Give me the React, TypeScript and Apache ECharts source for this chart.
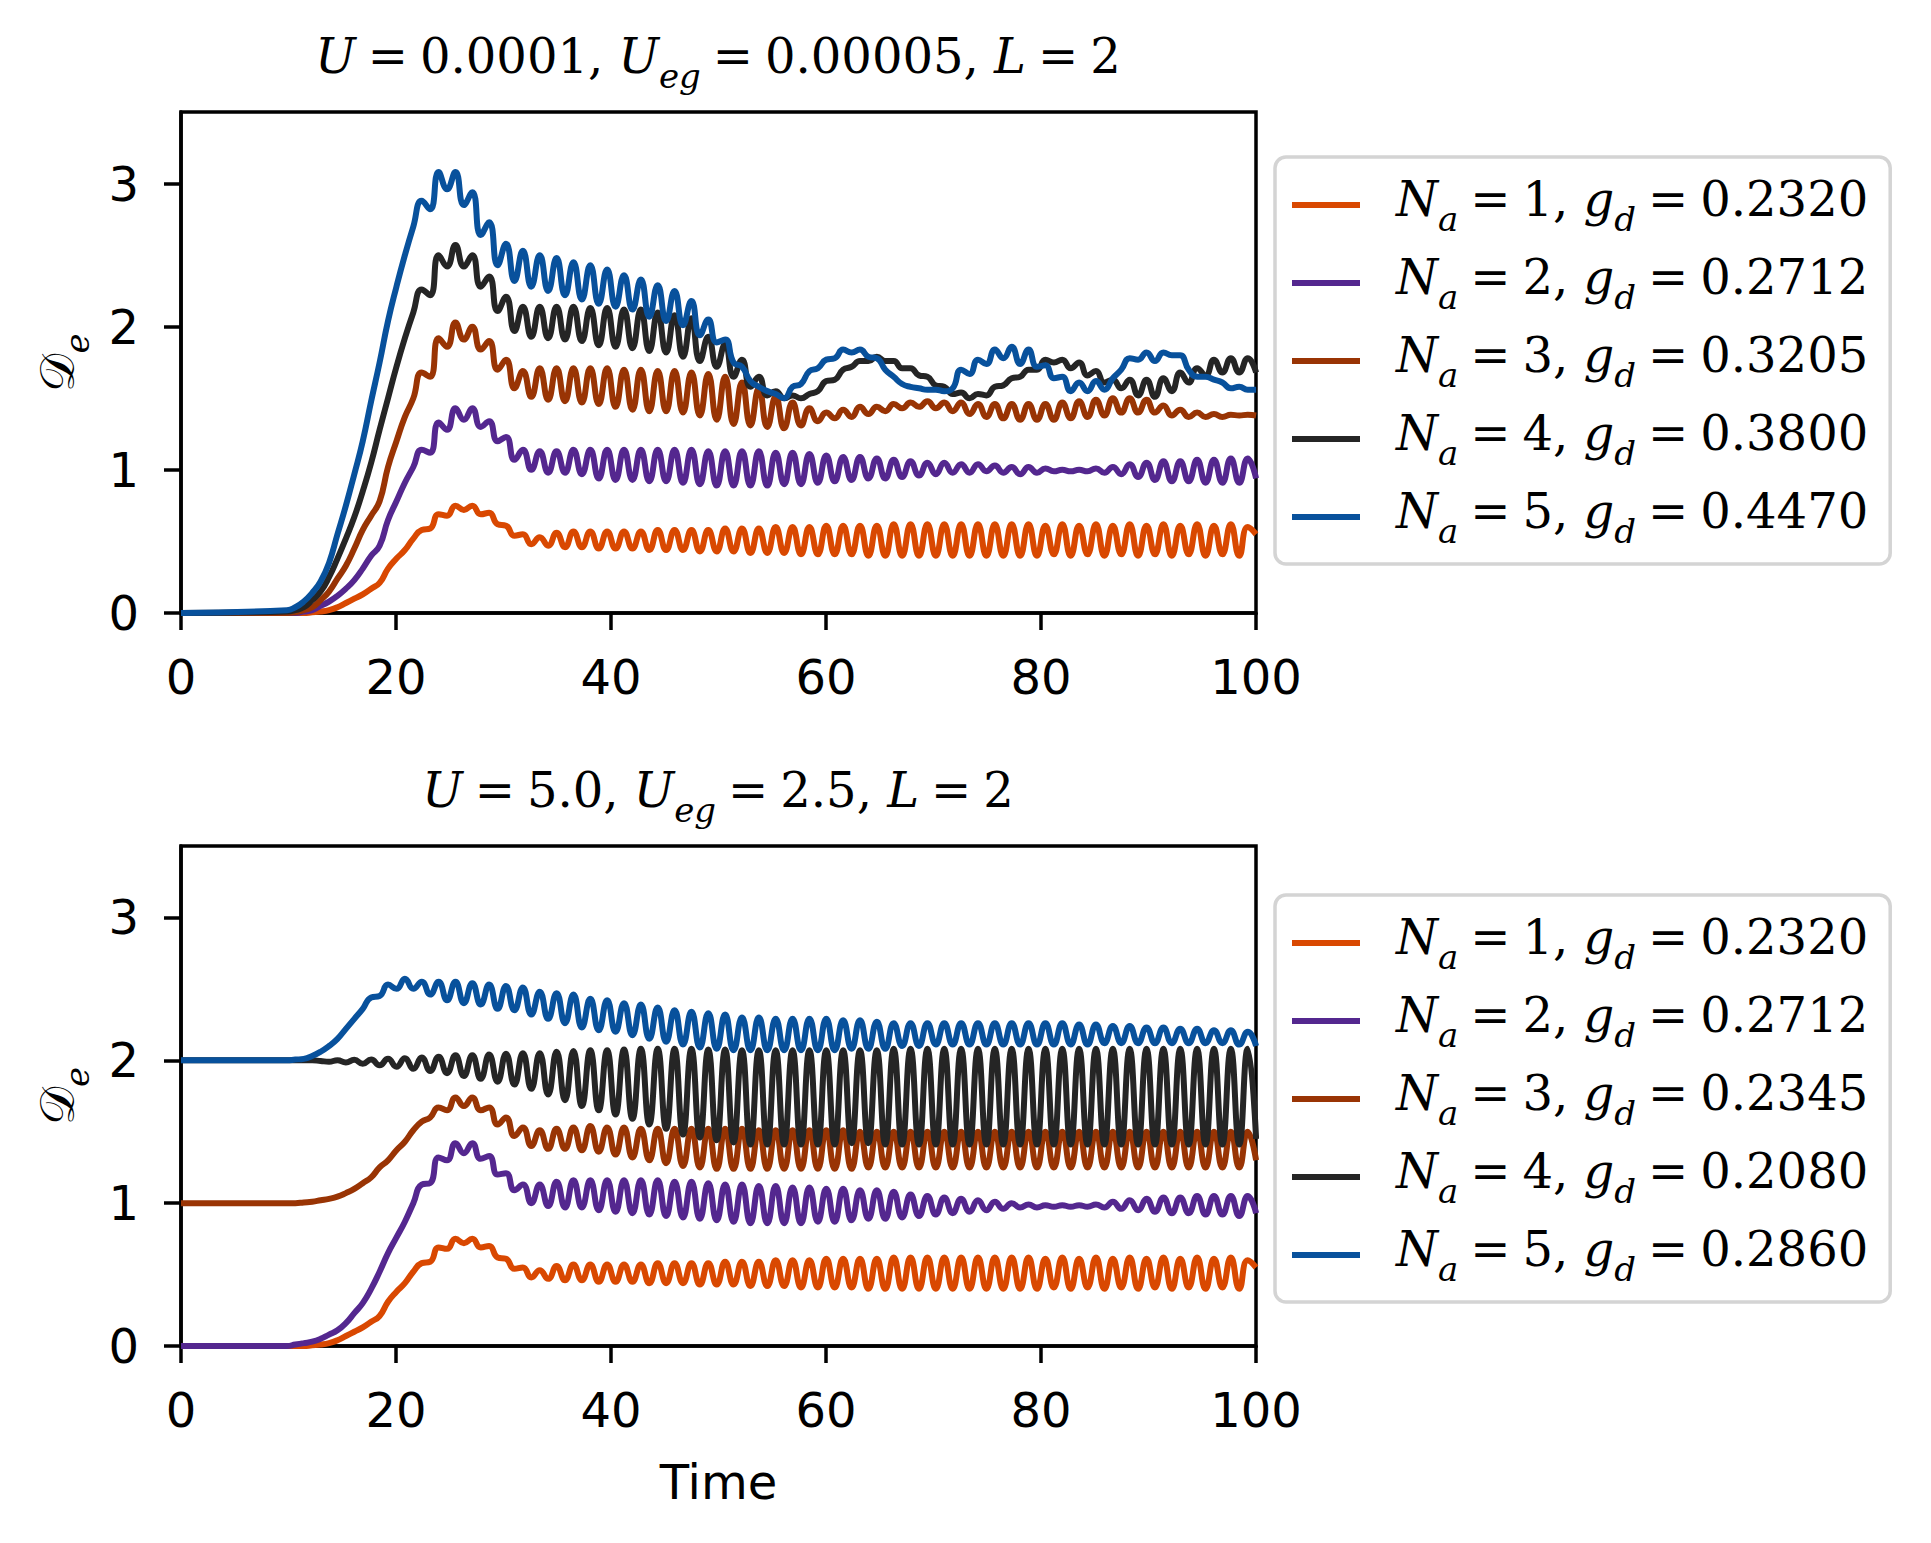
import React, { useEffect, useRef } from "react";
import * as echarts from "echarts";

const WIDTH = 1931;
const HEIGHT = 1543;

// Time grid: samples at the successive extrema of the oscillation (half period apart)
const T0 = 9.85;
const HALF_PERIOD = 0.784;

const X_TICKS = [0, 20, 40, 60, 80, 100];
const Y_TICKS = [0, 1, 2, 3];

const TITLES = ["U = 0.0001, U_eg = 0.00005, L = 2", "U = 5.0, U_eg = 2.5, L = 2"];
const TOP_NAMES = [
  "N_a = 1, g_d = 0.2320",
  "N_a = 2, g_d = 0.2712",
  "N_a = 3, g_d = 0.3205",
  "N_a = 4, g_d = 0.3800",
  "N_a = 5, g_d = 0.4470",
];
const BOT_NAMES = [
  "N_a = 1, g_d = 0.2320",
  "N_a = 2, g_d = 0.2712",
  "N_a = 3, g_d = 0.2345",
  "N_a = 4, g_d = 0.2080",
  "N_a = 5, g_d = 0.2860",
];
const COLORS = ["#d94801", "#54278f", "#993404", "#252525", "#08519c"];

// values at t = 0
const TOP_START = [0, 0, 0, 0, 0];
const BOT_START = [0, 0, 1, 2, 2];

// Na = 1 (identical in both panels)
const na1 = [
  0, 0, 0, 0.005, 0.01, 0.02, 0.04, 0.07, 0.10, 0.13,
  0.17, 0.21, 0.31, 0.38, 0.44, 0.52, 0.58, 0.59, 0.69, 0.68,
  0.75, 0.72, 0.75, 0.69, 0.70, 0.62, 0.61, 0.54, 0.55, 0.48,
  0.53, 0.47, 0.56, 0.46, 0.57, 0.46, 0.57, 0.45, 0.57, 0.45,
  0.57, 0.45, 0.57, 0.44, 0.58, 0.44, 0.58, 0.44, 0.58, 0.43,
  0.58, 0.43, 0.59, 0.43, 0.59, 0.42, 0.59, 0.42, 0.60, 0.42,
  0.60, 0.41, 0.60, 0.41, 0.61, 0.41, 0.61, 0.41, 0.61, 0.40,
  0.61, 0.40, 0.62, 0.40, 0.62, 0.40, 0.62, 0.40, 0.62, 0.40,
  0.62, 0.40, 0.62, 0.40, 0.62, 0.40, 0.62, 0.40, 0.62, 0.40,
  0.61, 0.41, 0.62, 0.40, 0.61, 0.41, 0.62, 0.40, 0.61, 0.41,
  0.62, 0.40, 0.61, 0.41, 0.62, 0.40, 0.61, 0.41, 0.62, 0.40,
  0.61, 0.41, 0.62, 0.40, 0.60, 0.55,
];

const topNa2 = [
  0, 0, 0.01, 0.02, 0.05, 0.08, 0.12, 0.17, 0.23, 0.31,
  0.40, 0.47, 0.65, 0.78, 0.91, 1.02, 1.14, 1.12, 1.33, 1.28,
  1.43, 1.35, 1.43, 1.30, 1.34, 1.20, 1.23, 1.07, 1.14, 1.00,
  1.13, 0.98, 1.13, 0.98, 1.14, 0.97, 1.14, 0.94, 1.14, 0.93,
  1.14, 0.93, 1.14, 0.92, 1.14, 0.92, 1.14, 0.91, 1.14, 0.90,
  1.13, 0.89, 1.13, 0.89, 1.13, 0.89, 1.13, 0.89, 1.12, 0.90,
  1.12, 0.90, 1.11, 0.91, 1.10, 0.92, 1.09, 0.93, 1.09, 0.94,
  1.08, 0.94, 1.07, 0.95, 1.06, 0.96, 1.05, 0.97, 1.05, 0.98,
  1.04, 0.98, 1.04, 0.99, 1.03, 0.98, 1.02, 0.97, 1.02, 0.98,
  1.01, 0.99, 1.00, 0.99, 1.00, 0.99, 1.01, 0.98, 1.02, 0.97,
  1.04, 0.95, 1.05, 0.93, 1.06, 0.92, 1.06, 0.92, 1.07, 0.91,
  1.07, 0.91, 1.08, 0.91, 1.08, 0.94,
];

const topNa3 = [
  0, 0.005, 0.02, 0.04, 0.09, 0.15, 0.24, 0.33, 0.45, 0.58,
  0.68, 0.78, 1.02, 1.20, 1.37, 1.50, 1.68, 1.65, 1.92, 1.86,
  2.03, 1.91, 2.00, 1.84, 1.90, 1.70, 1.77, 1.57, 1.69, 1.51,
  1.71, 1.49, 1.71, 1.48, 1.71, 1.47, 1.71, 1.46, 1.71, 1.44,
  1.70, 1.42, 1.70, 1.41, 1.69, 1.41, 1.69, 1.40, 1.68, 1.38,
  1.67, 1.35, 1.65, 1.32, 1.61, 1.31, 1.57, 1.30, 1.51, 1.29,
  1.47, 1.31, 1.43, 1.34, 1.40, 1.36, 1.42, 1.37, 1.44, 1.39,
  1.44, 1.41, 1.46, 1.43, 1.47, 1.44, 1.48, 1.43, 1.47, 1.41,
  1.47, 1.39, 1.46, 1.37, 1.46, 1.36, 1.46, 1.35, 1.46, 1.35,
  1.46, 1.35, 1.47, 1.36, 1.48, 1.37, 1.49, 1.38, 1.50, 1.40,
  1.50, 1.40, 1.49, 1.40, 1.45, 1.38, 1.42, 1.37, 1.40, 1.37,
  1.39, 1.37, 1.385, 1.38, 1.385, 1.38,
];

const topNa4 = [
  0.01, 0.02, 0.04, 0.09, 0.15, 0.25, 0.38, 0.52, 0.67, 0.85,
  1.05, 1.28, 1.50, 1.72, 1.92, 2.10, 2.26, 2.22, 2.50, 2.42,
  2.57, 2.42, 2.50, 2.28, 2.35, 2.11, 2.21, 1.97, 2.14, 1.93,
  2.14, 1.92, 2.14, 1.91, 2.14, 1.90, 2.13, 1.87, 2.13, 1.86,
  2.12, 1.85, 2.12, 1.83, 2.10, 1.82, 2.08, 1.79, 2.06, 1.76,
  1.93, 1.72, 1.88, 1.65, 1.77, 1.58, 1.65, 1.52, 1.55, 1.50,
  1.52, 1.50, 1.53, 1.55, 1.62, 1.63, 1.70, 1.72, 1.76, 1.76,
  1.79, 1.76, 1.76, 1.71, 1.71, 1.66, 1.65, 1.59, 1.58, 1.53,
  1.54, 1.50, 1.53, 1.52, 1.58, 1.59, 1.64, 1.65, 1.70, 1.70,
  1.77, 1.75, 1.77, 1.71, 1.75, 1.66, 1.69, 1.61, 1.63, 1.57,
  1.63, 1.52, 1.63, 1.51, 1.64, 1.55, 1.68, 1.61, 1.71, 1.66,
  1.77, 1.68, 1.78, 1.68, 1.78, 1.68,
];

const topNa5 = [
  0.02, 0.04, 0.08, 0.14, 0.22, 0.35, 0.55, 0.75, 0.97, 1.20,
  1.48, 1.75, 2.04, 2.28, 2.50, 2.70, 2.88, 2.82, 3.08, 2.96,
  3.08, 2.85, 2.94, 2.64, 2.73, 2.43, 2.58, 2.32, 2.53, 2.28,
  2.50, 2.25, 2.48, 2.22, 2.45, 2.19, 2.43, 2.16, 2.40, 2.14,
  2.36, 2.12, 2.33, 2.07, 2.29, 2.04, 2.25, 2.01, 2.18, 1.94,
  2.05, 1.89, 1.91, 1.75, 1.72, 1.62, 1.58, 1.55, 1.53, 1.50,
  1.58, 1.60, 1.69, 1.71, 1.77, 1.78, 1.84, 1.82, 1.84, 1.79,
  1.78, 1.70, 1.65, 1.60, 1.58, 1.57, 1.56, 1.56, 1.55, 1.57,
  1.70, 1.67, 1.77, 1.74, 1.84, 1.78, 1.86, 1.74, 1.84, 1.72,
  1.73, 1.64, 1.65, 1.55, 1.61, 1.55, 1.62, 1.56, 1.64, 1.70,
  1.78, 1.77, 1.82, 1.76, 1.82, 1.80, 1.80, 1.70, 1.65, 1.65,
  1.63, 1.61, 1.57, 1.58, 1.56, 1.56,
];

const botNa2 = [
  0, 0.01, 0.02, 0.03, 0.05, 0.08, 0.11, 0.16, 0.23, 0.30,
  0.40, 0.52, 0.65, 0.76, 0.87, 1.00, 1.13, 1.14, 1.32, 1.30,
  1.42, 1.35, 1.42, 1.31, 1.33, 1.20, 1.21, 1.09, 1.13, 1.00,
  1.13, 0.98, 1.15, 0.97, 1.16, 0.97, 1.16, 0.95, 1.16, 0.94,
  1.16, 0.93, 1.16, 0.92, 1.16, 0.91, 1.15, 0.90, 1.15, 0.89,
  1.14, 0.88, 1.13, 0.87, 1.13, 0.86, 1.12, 0.86, 1.12, 0.86,
  1.11, 0.86, 1.11, 0.87, 1.10, 0.87, 1.10, 0.88, 1.09, 0.89,
  1.09, 0.89, 1.08, 0.90, 1.06, 0.91, 1.05, 0.92, 1.04, 0.93,
  1.03, 0.94, 1.02, 0.95, 1.01, 0.96, 1.00, 0.97, 0.99, 0.97,
  0.985, 0.975, 0.985, 0.975, 0.985, 0.975, 0.99, 0.97, 1.01, 0.96,
  1.02, 0.95, 1.03, 0.94, 1.04, 0.93, 1.04, 0.93, 1.05, 0.92,
  1.05, 0.92, 1.05, 0.91, 1.05, 0.93,
];

const botNa3 = [
  1.0, 1.0, 1.005, 1.01, 1.02, 1.03, 1.045, 1.07, 1.10, 1.14,
  1.18, 1.25, 1.30, 1.37, 1.43, 1.51, 1.57, 1.60, 1.67, 1.65,
  1.74, 1.68, 1.74, 1.65, 1.67, 1.55, 1.60, 1.47, 1.53, 1.40,
  1.51, 1.38, 1.52, 1.38, 1.53, 1.37, 1.54, 1.36, 1.53, 1.34,
  1.53, 1.32, 1.52, 1.30, 1.52, 1.28, 1.52, 1.26, 1.52, 1.25,
  1.52, 1.24, 1.52, 1.24, 1.52, 1.24, 1.51, 1.24, 1.51, 1.24,
  1.51, 1.24, 1.51, 1.24, 1.51, 1.24, 1.51, 1.24, 1.50, 1.25,
  1.50, 1.25, 1.50, 1.25, 1.50, 1.25, 1.50, 1.25, 1.50, 1.25,
  1.50, 1.25, 1.50, 1.25, 1.50, 1.25, 1.50, 1.25, 1.50, 1.25,
  1.50, 1.25, 1.50, 1.25, 1.50, 1.25, 1.50, 1.25, 1.50, 1.25,
  1.50, 1.25, 1.50, 1.25, 1.50, 1.25, 1.50, 1.25, 1.50, 1.25,
  1.50, 1.25, 1.50, 1.25, 1.50, 1.30,
];

const botNa4 = [
  2.0, 2.0, 2.0, 2.0, 1.995, 1.99, 2.0, 1.985, 2.003, 1.975,
  2.005, 1.965, 2.01, 1.955, 2.015, 1.94, 2.02, 1.925, 2.025, 1.91,
  2.035, 1.89, 2.035, 1.87, 2.04, 1.85, 2.045, 1.83, 2.05, 1.80,
  2.05, 1.76, 2.06, 1.72, 2.065, 1.68, 2.07, 1.65, 2.07, 1.62,
  2.075, 1.59, 2.08, 1.55, 2.08, 1.52, 2.08, 1.48, 2.08, 1.46,
  2.075, 1.44, 2.075, 1.425, 2.07, 1.41, 2.07, 1.41, 2.07, 1.41,
  2.07, 1.41, 2.07, 1.41, 2.07, 1.41, 2.07, 1.42, 2.07, 1.42,
  2.07, 1.41, 2.08, 1.41, 2.08, 1.41, 2.08, 1.41, 2.08, 1.41,
  2.08, 1.41, 2.08, 1.41, 2.08, 1.41, 2.08, 1.41, 2.08, 1.41,
  2.08, 1.41, 2.08, 1.41, 2.08, 1.41, 2.08, 1.41, 2.08, 1.41,
  2.08, 1.41, 2.08, 1.41, 2.08, 1.41, 2.08, 1.41, 2.08, 1.41,
  2.08, 1.41, 2.08, 1.41, 2.08, 1.45,
];

const botNa5 = [
  2.0, 2.005, 2.01, 2.03, 2.06, 2.10, 2.15, 2.22, 2.29, 2.36,
  2.44, 2.45, 2.53, 2.50, 2.57, 2.50, 2.55, 2.46, 2.55, 2.42,
  2.55, 2.40, 2.54, 2.39, 2.53, 2.36, 2.52, 2.35, 2.51, 2.32,
  2.48, 2.29, 2.47, 2.26, 2.46, 2.23, 2.43, 2.21, 2.42, 2.20,
  2.40, 2.175, 2.39, 2.15, 2.37, 2.13, 2.35, 2.11, 2.34, 2.09,
  2.33, 2.08, 2.32, 2.07, 2.30, 2.07, 2.30, 2.07, 2.29, 2.07,
  2.29, 2.07, 2.29, 2.07, 2.29, 2.07, 2.28, 2.08, 2.28, 2.08,
  2.27, 2.08, 2.26, 2.10, 2.26, 2.10, 2.26, 2.11, 2.26, 2.11,
  2.26, 2.11, 2.26, 2.11, 2.26, 2.11, 2.26, 2.11, 2.26, 2.11,
  2.26, 2.11, 2.26, 2.11, 2.25, 2.11, 2.25, 2.12, 2.24, 2.12,
  2.24, 2.12, 2.23, 2.12, 2.23, 2.12, 2.22, 2.12, 2.22, 2.12,
  2.21, 2.12, 2.21, 2.11, 2.20, 2.10,
];

const TOP_VALUES = [na1, topNa2, topNa3, topNa4, topNa5];
const BOT_VALUES = [na1, botNa2, botNa3, botNa4, botNa5];

const SERIF = "'DejaVu Serif', serif";
const SANS = "'DejaVu Sans', sans-serif";
const FS = 48;

const base = { fontFamily: SERIF, fontWeight: "normal", color: "#000", verticalAlign: "top" };
const RICH: any = {
  it: { ...base, fontStyle: "italic", fontSize: FS, lineHeight: 60 },
  rm: { ...base, fontStyle: "normal", fontSize: FS, lineHeight: 60 },
  sub: { ...base, fontStyle: "italic", fontSize: 34, lineHeight: 34, padding: [27, 0, 0, 0] },
  it0: { ...base, fontStyle: "italic", fontSize: FS, lineHeight: 60, padding: [0, 0, 0, 31] },
  rm0: { ...base, fontStyle: "normal", fontSize: FS, lineHeight: 60, padding: [0, 0, 0, 31] },
  cal: { ...base, fontFamily: "'DejaVu Sans', 'DejaVu Serif', 'Noto Sans', serif", fontSize: FS, lineHeight: 60 },
};

// math-like rich text: letters italic, "_x" subscripts, thinner spaces around "="
function mathRich(s: string, lead = false): string {
  const src = s.replace(/ = /g, "\u2005=\u2005");
  const out: string[] = [];
  let first = true;
  let buf = "";
  let cls = "";
  const push = (style: string, text: string) => {
    if (!text) return;
    let st = style;
    if (first && lead && style !== "sub") st = style + "0";
    first = false;
    out.push(`{${st}|${text}}`);
  };
  const flush = () => {
    push(cls, buf);
    buf = "";
  };
  let i = 0;
  while (i < src.length) {
    const c = src[i];
    if (c === "_") {
      flush();
      let j = i + 1;
      let sub = "";
      while (j < src.length && /[A-Za-z0-9]/.test(src[j])) {
        sub += src[j];
        j++;
      }
      cls = "sub";
      buf = sub;
      flush();
      cls = "";
      i = j;
      continue;
    }
    const k = /[A-Za-z]/.test(c) ? "it" : "rm";
    if (k !== cls) {
      flush();
      cls = k;
    }
    buf += c;
    i++;
  }
  flush();
  return out.join("");
}

function toPoints(start: number, vals: number[]) {
  return [[0, start], ...vals.map((v, k) => [T0 + k * HALF_PERIOD, v])];
}

const GRIDS = [
  { left: 181, top: 112, width: 1075, height: 501 },
  { left: 181, top: 846, width: 1075, height: 500 },
];

function buildOption() {
  const axisLine = { show: true, onZero: false, lineStyle: { color: "#000", width: 3.5 } };
  const axisTick = { show: true, length: 17, lineStyle: { color: "#000", width: 3.5 } };
  const labelStyle = { fontFamily: SANS, fontSize: FS, color: "#000" };

  const xAxis = [0, 1].map((g) => ({
    type: "value",
    gridIndex: g,
    min: 0,
    max: 100,
    interval: 20,
    axisLine,
    axisTick: { ...axisTick, customValues: X_TICKS },
    axisLabel: { ...labelStyle, margin: 40, customValues: X_TICKS },
    splitLine: { show: false },
    name: g === 1 ? "Time" : "",
    nameLocation: "middle",
    nameGap: 112,
    nameTextStyle: { fontFamily: SANS, fontSize: FS, color: "#000" },
  }));

  const yAxis = [0, 1].map((g) => ({
    type: "value",
    gridIndex: g,
    min: 0,
    max: 3.5,
    axisLine,
    axisTick: { ...axisTick, customValues: Y_TICKS },
    axisLabel: { ...labelStyle, margin: 42, customValues: Y_TICKS },
    splitLine: { show: false },
    name: "{cal|𝒟}{sub|e}",
    nameLocation: "middle",
    nameRotate: 90,
    nameGap: 88,
    nameTextStyle: { rich: RICH },
  }));

  const series: any[] = [];
  [TOP_VALUES, BOT_VALUES].forEach((vals, g) => {
    const names = g === 0 ? TOP_NAMES : BOT_NAMES;
    const starts = g === 0 ? TOP_START : BOT_START;
    vals.forEach((v, i) => {
      series.push({
        type: "line",
        name: names[i],
        xAxisIndex: g,
        yAxisIndex: g,
        data: toPoints(starts[i], v),
        smooth: 0.5,
        symbol: "none",
        showSymbol: false,
        lineStyle: { color: COLORS[i], width: 6 },
        itemStyle: { color: COLORS[i] },
        z: 2 + i,
      });
    });
  });

  const legendBase = {
    orient: "vertical",
    left: 1275,
    itemWidth: 68,
    itemHeight: 6,
    icon: "rect",
    itemGap: 17,
    padding: [18, 22, 16, 17],
    backgroundColor: "#ffffff",
    borderColor: "#d4d4d4",
    borderWidth: 3.5,
    borderRadius: 11,
    selectedMode: false,
    formatter: (name: string) => mathRich(name, true),
    textStyle: { fontWeight: "normal", rich: RICH },
  };

  return {
    animation: false,
    backgroundColor: "#ffffff",
    title: TITLES.map((t, i) => ({
      text: mathRich(t),
      left: 718,
      top: i === 0 ? 32 : 766,
      textAlign: "center",
      padding: 0,
      textStyle: { fontWeight: "normal", fontFamily: SERIF, fontSize: FS, color: "#000", rich: RICH },
    })),
    grid: GRIDS.map((g) => ({ ...g, show: true, borderColor: "#000", borderWidth: 3.5, backgroundColor: "transparent" })),
    xAxis,
    yAxis,
    legend: [
      { ...legendBase, top: 157, data: TOP_NAMES },
      { ...legendBase, top: 895, data: BOT_NAMES },
    ],
    series,
  };
}

export default function App() {
  const ref = useRef<HTMLDivElement>(null);
  useEffect(() => {
    if (!ref.current) return;
    const chart = echarts.init(ref.current, null, { renderer: "svg", width: WIDTH, height: HEIGHT });
    chart.setOption(buildOption() as any);
    return () => chart.dispose();
  }, []);
  return (
    <div
      ref={ref}
      style={{ position: "absolute", left: 0, top: 0, width: WIDTH, height: HEIGHT, background: "#fff" }}
    />
  );
}
